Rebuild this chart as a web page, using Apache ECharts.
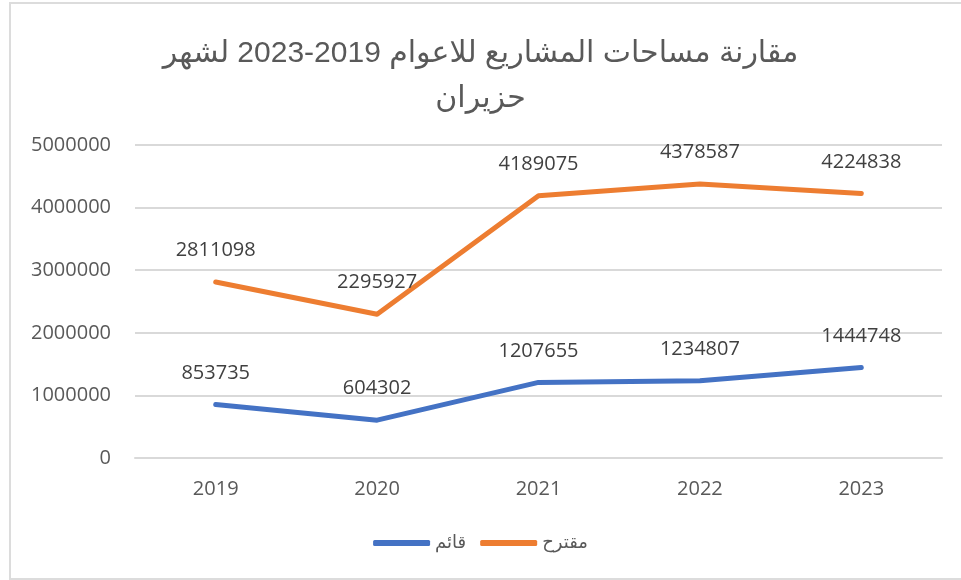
<!DOCTYPE html>
<html>
<head>
<meta charset="utf-8">
<script src="https://cdn.jsdelivr.net/npm/echarts@6/dist/echarts.min.js"></script>
<style>
  html, body { margin: 0; padding: 0; background: #fff; overflow: hidden; }
  #chart { position: absolute; left: 0; top: 0; width: 961px; height: 580px; }
  #frame { position: absolute; left: 9px; top: 2px; width: 970px; height: 574px;
    border: 2px solid #dcdcdc; border-right: none; pointer-events: none; }
</style>
</head>
<body>
<div id="chart" dir="rtl"></div>
<div id="frame"></div>
<script>
// chart values
const years = ['2019', '2020', '2021', '2022', '2023']
const existing = [853735, 604302, 1207655, 1234807, 1444748]   // قائم
const proposed = [2811098, 2295927, 4189075, 4378587, 4224838]  // مقترح
const seriesNames = ['قائم', 'مقترح']
const titleText = 'مقارنة مساحات المشاريع للاعوام 2019-2023 لشهر\nحزيران'

const numFont = '"Open Sans", "Liberation Sans", sans-serif'

const chart = echarts.init(document.getElementById('chart'))

const makeSeries = (name, data, color) => ({
  name: name,
  type: 'line',
  data: data,
  symbol: 'circle',
  symbolSize: 1,
  itemStyle: { color: color },
  lineStyle: { width: 5, color: color, cap: 'round', join: 'round' },
  label: {
    show: true,
    position: 'top',
    distance: 21,
    color: '#404040',
    fontSize: 20,
    fontFamily: numFont
  },
  emphasis: { disabled: true },
  animation: false
})

chart.setOption({
  backgroundColor: '#fff',
  title: {
    text: titleText,
    left: 'center',
    top: 26,
    textStyle: {
      fontSize: 30,
      fontWeight: 'normal',
      color: '#595959',
      lineHeight: 45,
      fontFamily: '"Liberation Sans", "DejaVu Sans", sans-serif'
    }
  },
  legend: {
    data: seriesNames,
    left: 'center',
    top: 529,
    icon: 'roundRect',
    itemWidth: 57,
    itemHeight: 6,
    itemGap: 14,
    textStyle: {
      fontSize: 18,
      color: '#595959',
      fontFamily: '"DejaVu Sans", sans-serif'
    }
  },
  grid: { left: 135, right: 19, top: 145, bottom: 122 },
  xAxis: {
    type: 'category',
    data: years,
    boundaryGap: true,
    axisLine: { lineStyle: { color: '#d9d9d9', width: 2 } },
    axisTick: { show: false },
    axisLabel: { margin: 21, fontSize: 20, color: '#595959', fontFamily: numFont }
  },
  yAxis: {
    type: 'value',
    min: 0,
    max: 5000000,
    interval: 1000000,
    axisLine: { show: false },
    axisTick: { show: false },
    axisLabel: {
      margin: 24, fontSize: 20, color: '#595959', fontFamily: numFont,
      formatter: v => String(v)
    },
    splitLine: { lineStyle: { color: '#d9d9d9', width: 2 } }
  },
  series: [
    makeSeries(seriesNames[0], existing, '#4472C4'),
    makeSeries(seriesNames[1], proposed, '#ED7D31')
  ]
})
</script>
</body>
</html>
